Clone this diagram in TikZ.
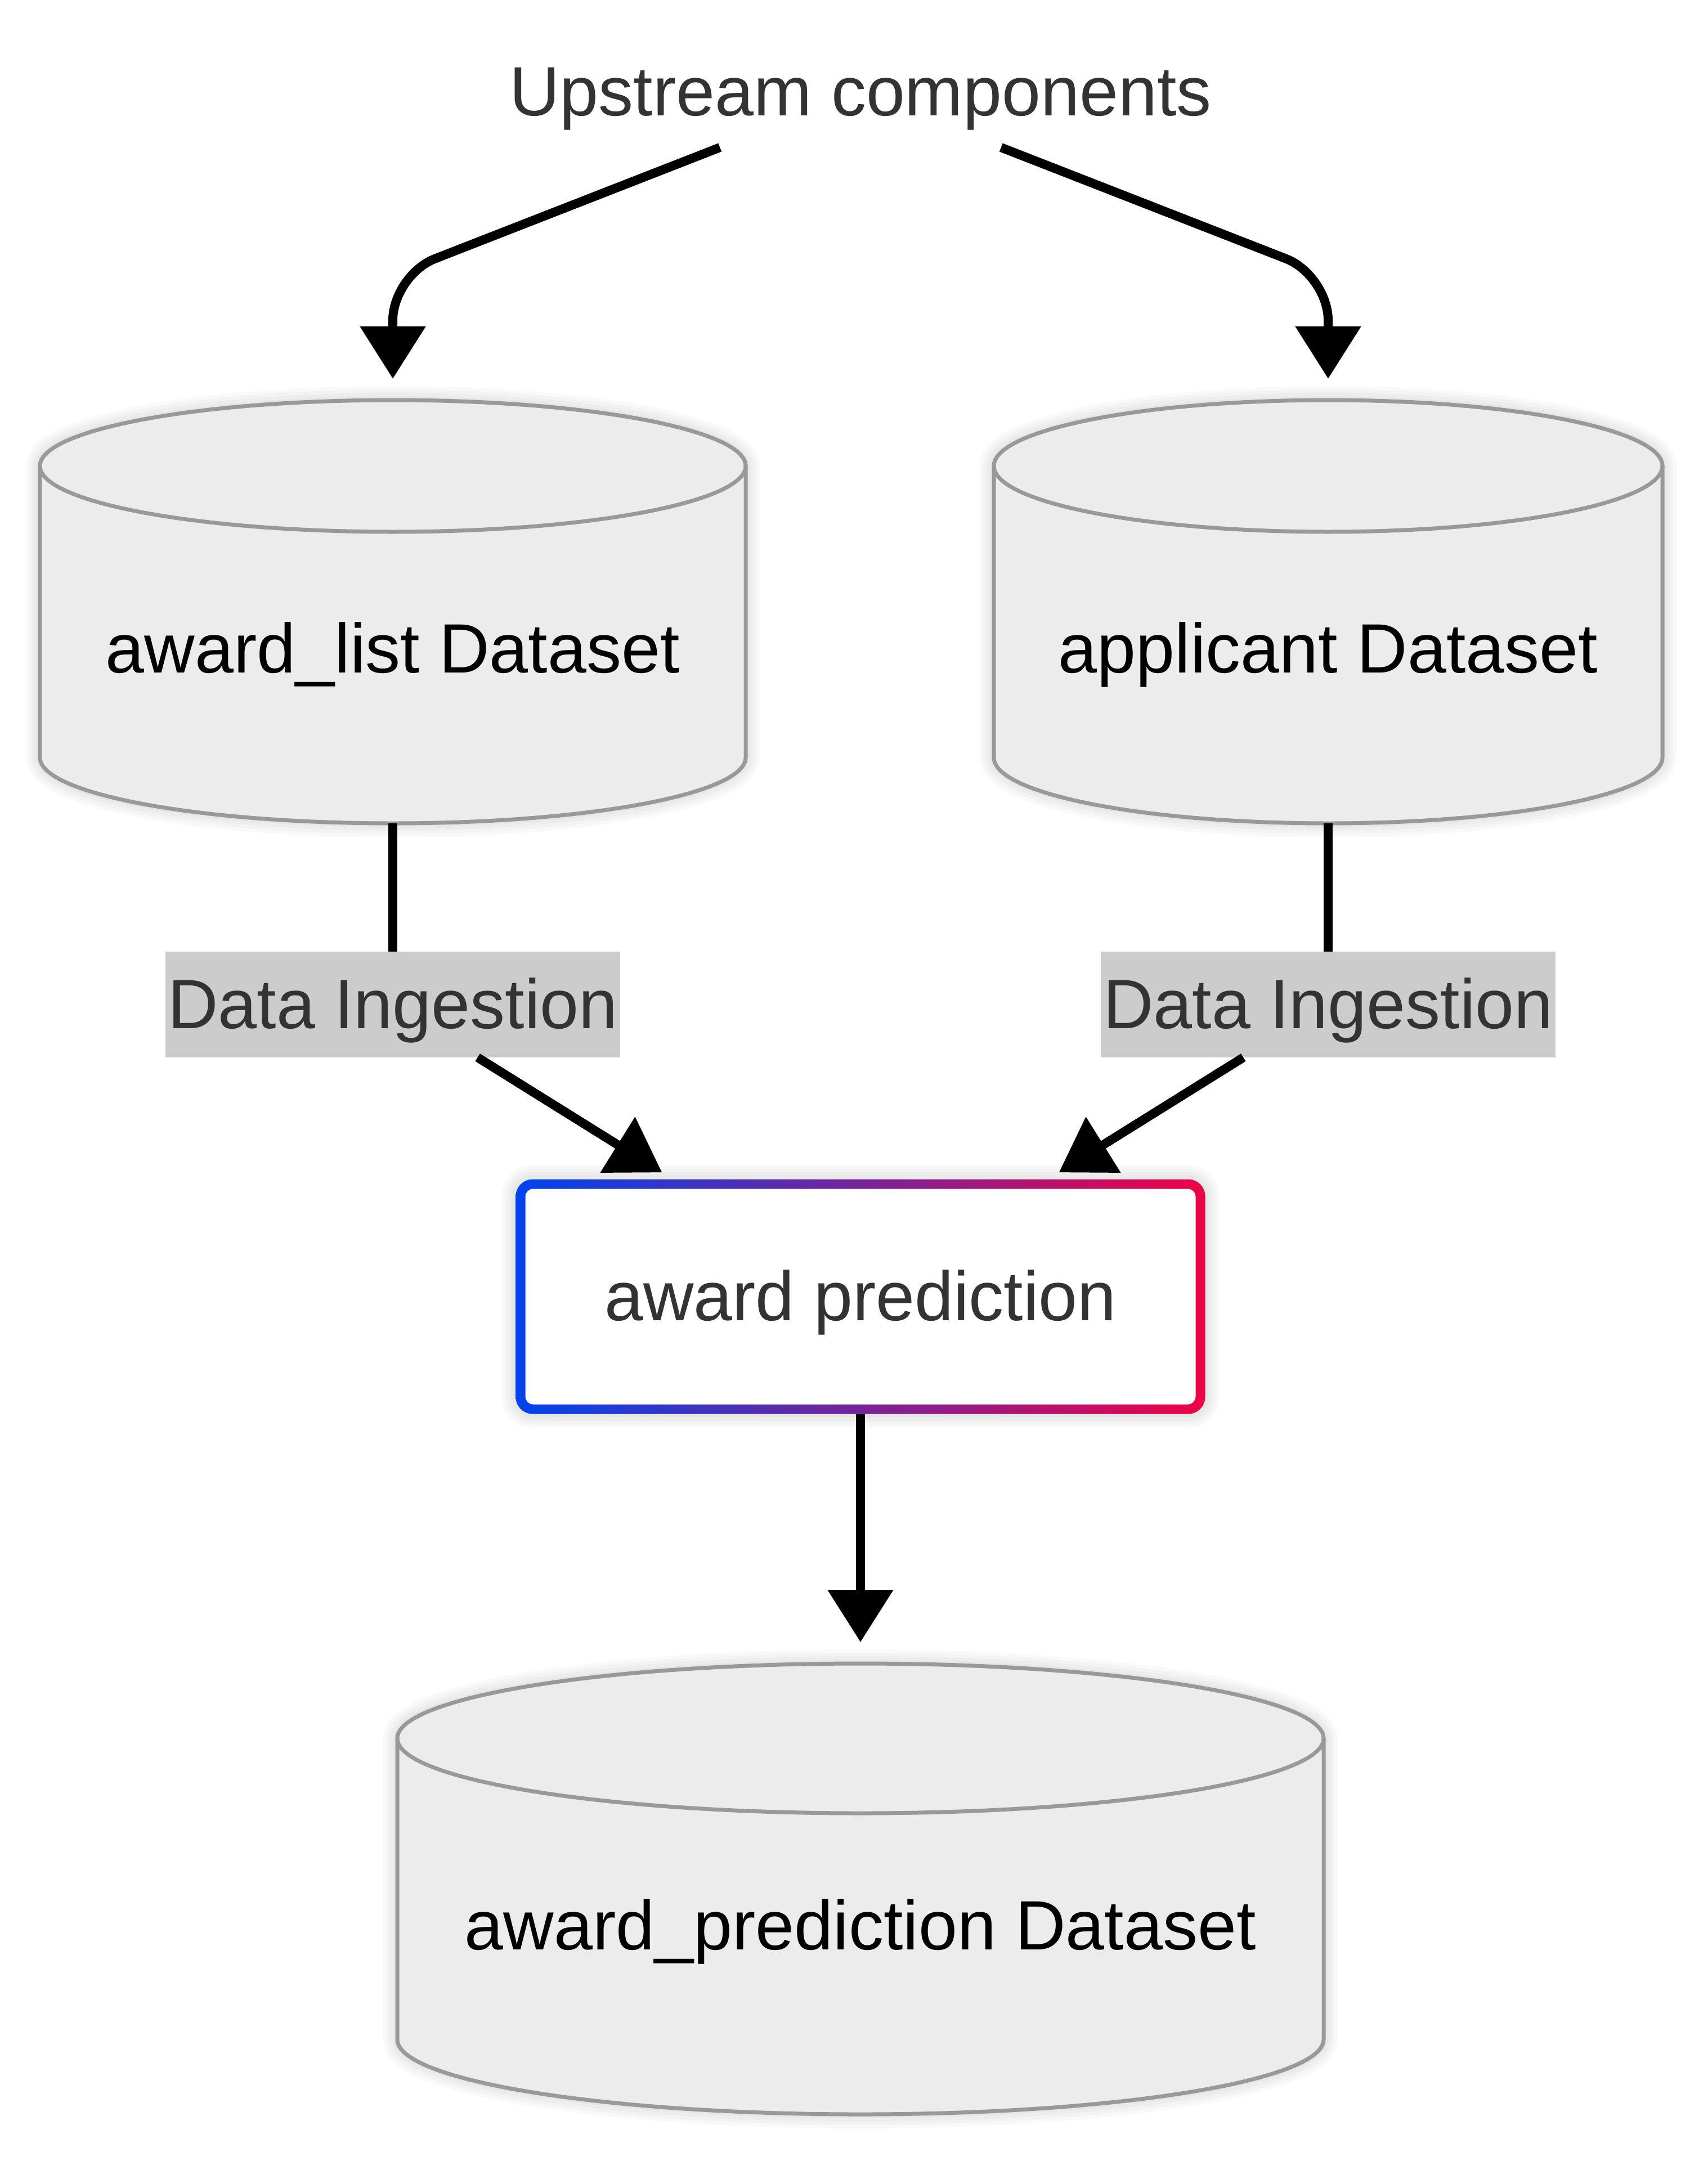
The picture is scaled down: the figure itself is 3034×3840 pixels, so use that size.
\documentclass[tikz,border=0pt]{standalone}
\usepackage{fontspec}
\setmainfont{Liberation Sans}
\usetikzlibrary{arrows.meta,calc,backgrounds}
\definecolor{txtgray}{HTML}{333333}
\definecolor{cylfillc}{HTML}{ECECEC}
\definecolor{cyllinec}{HTML}{999999}
\definecolor{lblbg}{HTML}{CCCCCC}
\definecolor{gblue}{HTML}{0044EA}
\definecolor{gred}{HTML}{EC0446}
\tikzset{
  plain/.style={font=\fontsize{124}{150}\selectfont, inner sep=0pt, outer sep=0pt,
    text height=99pt, text depth=15pt, align=center},
  cylnode/.style={plain, text=black},
  lblnode/.style={plain, fill=lblbg, text=txtgray, minimum width=808pt, minimum height=188pt},
  boxnode/.style={plain, text=txtgray, minimum width=1225pt, minimum height=417pt},
  cylbody/.style={fill=cylfillc, draw=cyllinec, line width=7pt},
  cylrim/.style={draw=cyllinec, line width=7pt},
  softshadow/.style={fill=black, draw=black, line width=#1, opacity=0.022, yshift=-14pt},
  edge/.style={draw=black, line width=16pt, -{Triangle[length=93pt,width=113pt]}},
  plainedge/.style={draw=black, line width=16pt},
}
\newcommand\cylbodypath[3]{%
  \path[#3] let \p1=(#1.north west), \p2=(#1.south east), \n1={(\x2-\x1)/2} in
    (\x1,{\y1-#2pt}) -- (\x1,{\y2+#2pt})
    arc[start angle=180, end angle=360, x radius=\n1, y radius=#2pt]
    -- (\x2,{\y1-#2pt})
    arc[start angle=0, end angle=180, x radius=\n1, y radius=#2pt] -- cycle;
}
\newcommand\cylshape[2]{%
  \foreach \w in {50,38,26,14} {\cylbodypath{#1}{#2}{softshadow=\w pt}}
  \cylbodypath{#1}{#2}{cylbody}
  \path[cylrim] let \p1=(#1.north west), \p2=(#1.south east), \n1={(\x2-\x1)/2} in
    (\x1,{\y1-#2pt}) arc[start angle=180, end angle=360, x radius=\n1, y radius=#2pt];
}
\begin{document}
\begin{tikzpicture}[x=1pt, y=1pt]
\useasboundingbox (0,0) rectangle (3034,-3840);

% nodes
\node[plain, text=txtgray, minimum width=1300pt, minimum height=196pt] (up) at (1529,-164) {Upstream components};
\node[cylnode, text height=484pt, text depth=268pt, minimum width=1254pt, minimum height=752pt] (aw) at (698,-1087) {award\_list Dataset};
\node[cylnode, text height=484pt, text depth=268pt, minimum width=1188pt, minimum height=752pt] (ad) at (2360,-1087) {applicant Dataset};
\node[lblnode] (l1) at (698,-1785) {Data Ingestion};
\node[lblnode] (l2) at (2360,-1785) {Data Ingestion};
\node[boxnode] (ap) at (1529,-2304) {award prediction};
\node[cylnode, text height=508.5pt, text depth=292.5pt, minimum width=1646pt, minimum height=801pt] (apd) at (1529,-3356.5) {award\_prediction Dataset};

\coordinate (cl) at (698,-489);
\coordinate (cr) at (2360,-489);

% connectors
\draw[edge, rounded corners=80pt] (up) -- (cl) -- ([yshift=38pt]aw.north);
\draw[edge, rounded corners=80pt] (up) -- (cr) -- ([yshift=38pt]ad.north);
\draw[plainedge] (aw) -- (l1);
\draw[plainedge] (ad) -- (l2);
\draw[edge, shorten >=23pt] (l1) -- (ap);
\draw[edge, shorten >=23pt] (l2) -- (ap);
\draw[edge] (ap) -- ([yshift=38pt]apd.north);

% shapes behind
\begin{scope}[on background layer]
  \fill[white] (0,0) rectangle (3034,-3840);
  \cylshape{aw}{117}
  \cylshape{ad}{117}
  \cylshape{apd}{133}
  \foreach \w in {50,38,26,14} {
    \path[softshadow=\w pt, rounded corners=30pt] (ap.north west) rectangle (ap.south east);
  }
  \shade[left color=gblue, right color=gred, rounded corners=30pt] (ap.north west) rectangle (ap.south east);
  \fill[white, rounded corners=14pt] ([shift={(17pt,-17pt)}]ap.north west) rectangle ([shift={(-17pt,17pt)}]ap.south east);
\end{scope}
\end{tikzpicture}
\end{document}
